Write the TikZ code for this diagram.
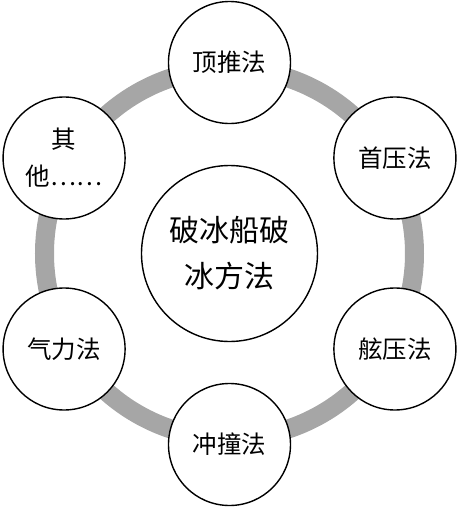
\documentclass[tikz,border=0pt]{standalone}
\usepackage{fontspec}
\setmainfont{Noto Sans CJK SC}
\usetikzlibrary{positioning}
\definecolor{ringgray}{RGB}{166,166,166}
\tikzset{
hub/.style = {draw, fill=white, circle, line width=1.4pt, minimum size=176pt, inner sep=0pt, align=center, font=\fontsize{30}{46}\selectfont},
method/.style = {draw, fill=white, circle, line width=1.4pt, minimum size=122pt, inner sep=0pt, align=center, font=\fontsize{24.5}{37}\selectfont},
ring/.style = {draw=ringgray, line width=19pt}
}
\begin{document}
\begin{tikzpicture}
		\useasboundingbox (-229.5pt,-253.5pt) rectangle (229.5pt,253.5pt);
		\node [hub] (hub) at (0,0) {破冰船破\\冰方法};
		\draw [ring] (hub.center) circle (185pt);

		\node [method] (top) at (90:191pt) {顶推法};
		\node [method] (topright) at (30:191pt) {首压法};
		\node [method] (botright) at (-30:191pt) {舷压法};
		\node [method] (bottom) at (-90:191pt) {冲撞法};
		\node [method] (botleft) at (-150:191pt) {气力法};
		\node [method] (topleft) at (150:191pt) {其\\他……};
    \end{tikzpicture}
\end{document}
